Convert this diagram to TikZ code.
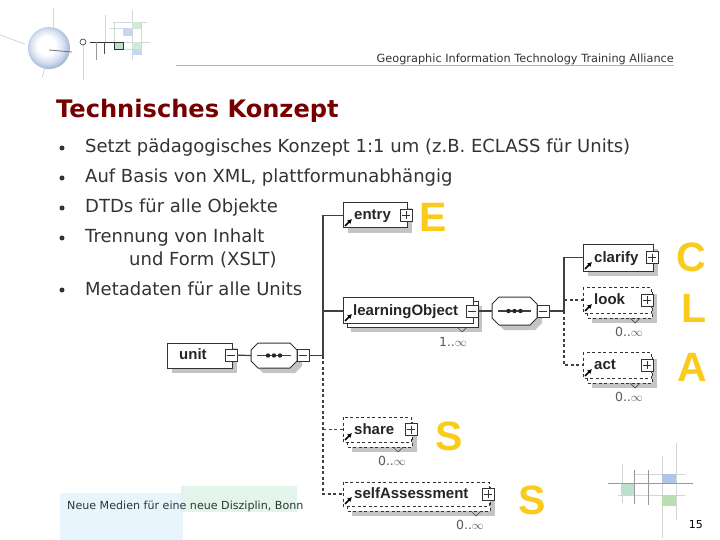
\documentclass[tikz,border=0pt]{standalone}
\usepackage{fontspec}
\setmainfont{DejaVu Sans}
\newfontfamily\schemafont{Liberation Sans}
\usetikzlibrary{arrows.meta}
\usetikzlibrary{positioning}
\usetikzlibrary{calc}
\definecolor{titlered}{HTML}{760000}
\definecolor{bodygray}{HTML}{303436}
\definecolor{lettergold}{HTML}{FBCB1C}
\definecolor{shadowgray}{HTML}{C4C4C4}
\definecolor{footblue}{HTML}{E8F5FD}
\definecolor{footgreen}{HTML}{E3F5EA}
\definecolor{decogreen}{HTML}{BCE0CC}
\definecolor{decolime}{HTML}{BBDDB2}
\definecolor{decoblue}{HTML}{AFC7E4}
\definecolor{decoline}{HTML}{D2D6D6}
\definecolor{ballmid}{HTML}{D3DFF0}
\definecolor{ballouter}{HTML}{B0C0DC}
\definecolor{ballrim}{HTML}{7F90B0}
\pgfdeclareradialshading{logoball}{\pgfpoint{-4bp}{4bp}}{color(0bp)=(white); color(11bp)=(white); color(20bp)=(ballmid); color(25bp)=(ballouter); color(30bp)=(ballrim); color(50bp)=(ballrim)}
\tikzset{
  elembox/.style={draw=black!80, line width=1pt, fill=white},
  schemalabel/.style={font=\schemafont\bfseries\fontsize{15}{15}\selectfont, text=black!85, inner sep=0pt, anchor=base west},
  countlabel/.style={font=\fontsize{12.5}{12.5}\selectfont, text=black!65, inner sep=0pt},
  bigletter/.style={font=\schemafont\bfseries\fontsize{41}{41}\selectfont, text=lettergold, inner sep=0pt},
  toggle/.style={draw=black!80, line width=0.8pt, fill=white, minimum size=12pt, inner sep=0pt},
  plusbox/.style={toggle, path picture={
      \draw[line width=0.7pt] ([xshift=2pt]path picture bounding box.west) -- ([xshift=-2pt]path picture bounding box.east);
      \draw[line width=0.7pt] ([yshift=-2pt]path picture bounding box.north) -- ([yshift=2pt]path picture bounding box.south);}},
  minusbox/.style={toggle, path picture={
      \draw[line width=0.7pt] ([xshift=2pt]path picture bounding box.west) -- ([xshift=-2pt]path picture bounding box.east);}},
  seqbox/.style={draw=black!80, line width=1pt, fill=white, inner sep=0pt},
  link/.style={draw=black!75, line width=1.2pt},
  optlink/.style={link, dash pattern=on 3pt off 2.5pt},
  optedge/.style={draw=black!80, line width=0.8pt, dash pattern=on 3pt off 2.5pt},
  refarrow/.style={-{Latex[length=4.5pt,width=5pt]}, line width=1.5pt, black},
  bullet/.style={circle, fill=bodygray, inner sep=0pt, minimum size=5pt},
  bodytext/.style={font=\fontsize{18}{18}\selectfont, text=bodygray, inner sep=0pt, anchor=base west},
  decoln/.style={draw=decoline, line width=0.8pt},
  decodark/.style={draw=black!40, line width=0.9pt}
}
\begin{document}
\begin{tikzpicture}[x=1pt, y=-1pt]
  \useasboundingbox[fill=white] (0,0) rectangle (720,540);

  % Footer patches
  \fill[footblue] (60,493) rectangle (183,540);
  \fill[footgreen] (181,486) rectangle (297,512);
  \node[font=\fontsize{11.1}{11.1}\selectfont, text=bodygray, inner sep=0pt, anchor=base west] (footer) at (67,509) {Neue Medien für eine neue Disziplin, Bonn};
  \node[font=\fontsize{11}{11}\selectfont, inner sep=0pt, anchor=base east] (pagenum) at (703,528) {15};

  % Logo at the top
  \foreach \xa/\ya/\xb/\yb in {0/35/25/44, 53/8/53/27, 42/78/45/68, 83/45/83/80, 132/10/132/60, 105/15/105/42, 114/22/114/42, 141/22/141/55, 113/22/147/22, 110/28/141/28, 123/42/150/42, 123/49/141/49} {
    \draw[decoln] (\xa,\ya) -- (\xb,\yb);
  }
  \fill[decogreen!70] (132,22) rectangle (141,29);
  \fill[decoblue!70] (123,28) rectangle (132,36);
  \fill[decogreen!70] (132,42) rectangle (141,49);
  \fill[decoblue!70] (132,49) rectangle (141,55);
  \shade[shading=logoball] (49,48) circle (21);
  \node[draw=black!80, circle, minimum size=6pt, inner sep=0pt, line width=0.6pt] (logoring) at (83,42) {};
  \fill[decogreen] (114,42) rectangle (123,49);
  \draw[black!80, line width=0.8pt] (90,42) -- (123,42) -- (123,49) -- (114,49) -- (114,42);
  \draw[black!40, line width=0.8pt] (96,42) -- (96,60);
  \draw[black!70, line width=0.8pt] (104,42) -- (104,54);
  \draw[black!55, line width=0.8pt] (49,50) -- (72,52);

  % Header
  \draw[black!30, line width=0.7pt] (176,65.5) -- (674,65.5);
  \node[font=\fontsize{11.3}{11.3}\selectfont, text=bodygray, inner sep=0pt, anchor=base east] (header) at (674,63) {Geographic Information Technology Training Alliance};
  \node[font=\bfseries\fontsize{24.1}{24.1}\selectfont, text=titlered, inner sep=0pt, anchor=base west] (title) at (56,118) {Technisches Konzept};

  % Bullet list
  \foreach \y/\txt in {147/{Setzt pädagogisches Konzept 1:1 um (z.B. ECLASS für Units)}, 177/{Auf Basis von XML, plattformunabhängig}, 207/{DTDs für alle Objekte}, 237/{Trennung von Inhalt}, 289/{Metadaten für alle Units}} {
    \node[bullet] (dot\y) at (62,\y+1) {};
    \node[bodytext] (item\y) at (85,\y+6) {\txt};
  }
  \node[bodytext] (item259) at (129,265) {und Form (XSLT)};

  % Bottom right decoration
  \foreach \xa/\ya/\xb/\yb in {634/474/685/474, 618/495/685/495, 622/464/622/503, 662/456/662/538, 676/443/676/520} {
    \draw[decoln] (\xa,\ya) -- (\xb,\yb);
  }
  \fill[decogreen] (621,483) rectangle (634,495);
  \fill[decoblue] (662,474) rectangle (676,483);
  \fill[decolime] (662,495) rectangle (676,506);
  \foreach \xa/\ya/\xb/\yb in {608/483/693/483, 634/470/634/504, 648/470/648/505} {
    \draw[decodark] (\xa,\ya) -- (\xb,\yb);
  }

  % Required elements: name/label/left/top/right/bottom
  \foreach \name/\lab/\xl/\yt/\xr/\yb in {entry/entry/343/203/407/228, clarify/clarify/583/244/653/271} {
    \fill[shadowgray] (\xl+5,\yt+5) rectangle (\xr+5,\yb+5);
    \draw[elembox] (\xl,\yt) rectangle (\xr,\yb);
    \coordinate (\name) at (\xl,{(\yt+\yb)/2});
    \node[plusbox] (\name-toggle) at (\xr-1,{(\yt+\yb)/2}) {};
    \node[schemalabel] (\name-label) at (\xl+11,{(\yt+\yb)/2+4.5}) {\lab};
    \draw[refarrow] (\xl+2,\yb-2) -- (\xl+9,\yb-9);
  }

  % Optional elements: name/label/left/top/right/bottom/toggle x/count x
  \foreach \name/\lab/\xl/\yt/\xr/\yb/\xt/\xc in {look/look/583/287/651/313/647/629, act/act/583/352/651/378/647/629, share/share/343/417/411/442/411/392, self/selfAssessment/343/482/489/506/488/470} {
    \fill[shadowgray] (\xl+9,\yb+1) rectangle (\xr+6,\yb+10);
    \fill[shadowgray] (\xr+1,\yt+7) rectangle (\xr+6,\yb+10);
    \fill[white] (\xl+4,\yt+4) rectangle (\xr+1,\yb+5);
    \draw[optedge] (\xl+4,\yb) -- (\xl+4,\yb+5) -- (\xr+1,\yb+5) -- (\xr+1,\yt+5);
    \draw[optedge] (\xl,\yt) rectangle (\xr,\yb);
    \coordinate (\name) at (\xl,{(\yt+\yb)/2});
    \node[plusbox] (\name-toggle) at (\xt,{(\yt+\yb)/2}) {};
    \node[schemalabel] (\name-label) at (\xl+11,{(\yt+\yb)/2+4.5}) {\lab};
    \draw[refarrow] (\xl+2,\yb-2) -- (\xl+9,\yb-9);
    \draw[black!70, line width=0.7pt] (\xc+1,\yb+5) -- (\xc+6,\yb+10) -- (\xc+11,\yb+5);
    \node[countlabel] (\name-count) at (\xc,\yb+19) {0..$\infty$};
  }

  % learningObject with its second sheet
  \fill[shadowgray] (351,306) rectangle (482,332);
  \draw[elembox] (347,301) rectangle (478,327);
  \draw[elembox] (343,297) rectangle (473,323);
  \coordinate (learningObject) at (343,311);
  \node[minusbox] (learningObject-toggle) at (472,311) {};
  \node[schemalabel] (learningObject-label) at (353,315.5) {learningObject};
  \draw[refarrow] (345,321) -- (352,314);
  \draw[black!70, line width=0.7pt] (457,327) -- (462,332) -- (467,327);
  \node[countlabel] (learningObject-count) at (453,342) {1..$\infty$};

  % unit and the two sequence groups
  \fill[shadowgray] (172,348) rectangle (237,373);
  \draw[elembox] (167,343) rectangle (232,368);
  \node[schemalabel] (unit-label) at (179,359.5) {unit};
  \node[minusbox] (unit-toggle) at (231,355) {};

  \foreach \name/\xl/\xr/\yt/\yb in {seqa/251/297/343/368, seqb/492/537/297/325} {
    \fill[shadowgray, shift={(5,5)}] (\xl+7,\yt) -- (\xr-7,\yt) -- (\xr,\yt+7) -- (\xr,\yb-7) -- (\xr-7,\yb) -- (\xl+7,\yb) -- (\xl,\yb-7) -- (\xl,\yt+7) -- cycle;
    \draw[seqbox] (\xl+7,\yt) -- (\xr-7,\yt) -- (\xr,\yt+7) -- (\xr,\yb-7) -- (\xr-7,\yb) -- (\xl+7,\yb) -- (\xl,\yb-7) -- (\xl,\yt+7) -- cycle;
    \coordinate (\name-west) at (\xl,{(\yt+\yb)/2});
    \coordinate (\name-mid) at ({(\xl+\xr)/2},{(\yt+\yb)/2});
    \draw[link] (\xl+6,{(\yt+\yb)/2}) -- (\xr-6,{(\yt+\yb)/2});
    \foreach \dx in {-6,0,6} {
      \fill[black!85] ($(\name-mid)+(\dx,0)$) circle (2.2);
    }
  }
  \node[minusbox] (seqa-toggle) at (303,355.5) {};
  \node[minusbox] (seqb-toggle) at (543,311) {};

  % Branch points
  \coordinate (trunka) at (323,355.5);
  \coordinate (trunkb) at (564,311);

  % Connectors
  \draw[link] (unit-toggle) -- (seqa-west);
  \draw[link] (seqa-toggle) -- (trunka);
  \draw[link] (learningObject-toggle) -- (seqb-west);
  \draw[link] (seqb-toggle) -- (trunkb);
  \draw[link] (trunka) -- (trunka |- entry) -- (entry);
  \draw[link] (trunka |- learningObject) -- (learningObject);
  \draw[link] (trunkb) -- (trunkb |- clarify) -- (clarify);
  \draw[optlink] (trunkb |- look) -- (look);
  \draw[optlink] (trunkb) -- (trunkb |- act) -- (act);
  \draw[optlink] (trunka |- share) -- (share);
  \draw[optlink] (trunka) -- (trunka |- self) -- (self);

  % Big letters
  \node[bigletter] (letterE) at (433,217) {E};
  \node[bigletter] (letterC) at (691,257) {C};
  \node[bigletter] (letterL) at (694,308) {L};
  \node[bigletter] (letterA) at (692,367) {A};
  \node[bigletter] (letterS) at (449,436) {S};
  \node[bigletter] (letterSS) at (532,500) {S};
\end{tikzpicture}
\end{document}
